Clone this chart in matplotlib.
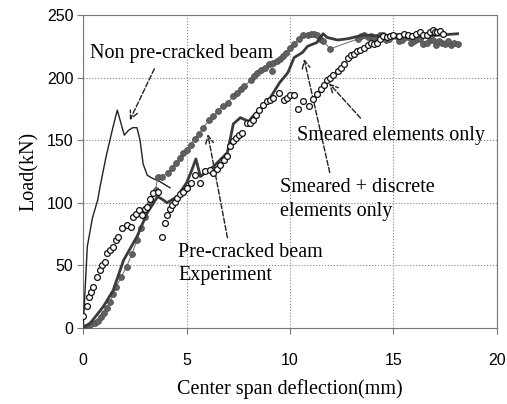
import matplotlib.pyplot as plt
import numpy as np

# non pre-cracked beam (FE, thin line)
npc_x = [0.0, 0.2, 0.45, 0.7, 0.82, 1.11, 1.45, 1.65, 1.99, 2.2, 2.4, 2.6, 2.75, 2.9, 3.1, 3.3, 3.7, 4.0, 4.2]
npc_y = [0, 65, 88, 102, 113, 137, 161, 174, 154, 158, 160, 160, 150, 131, 122, 120, 117, 114, 112]

# pre-cracked beam, experiment (filled dots)
exp_x = [0.0, 0.1, 0.25, 0.4, 0.55, 0.7, 0.85, 1.0, 1.15, 1.3, 1.45, 1.6, 1.85, 2.1, 2.35, 2.6, 2.8, 3.0,
         3.25, 3.5, 3.6, 3.8, 4.1, 4.3, 4.5, 4.7, 4.85, 5.0, 5.2, 5.4, 5.6, 5.8, 6.1, 6.3, 6.5, 6.75,
         7.0, 7.25, 7.45, 7.65, 7.8, 8.1, 8.25, 8.4, 8.6, 8.8, 9.0, 9.15, 9.2, 9.35, 9.5, 9.65, 9.8,
         10.0, 10.2, 10.45, 10.65, 10.85, 11.0, 11.15, 11.3, 11.45, 11.6, 11.95, 13.3, 13.45, 13.6,
         13.75, 13.9, 14.05, 14.2, 14.35, 14.5, 14.65, 14.8, 14.95, 15.1, 15.25, 15.4, 15.55, 15.7,
         15.85, 16.0, 16.15, 16.3, 16.45, 16.6, 16.75, 16.9, 17.05, 17.2, 17.35, 17.5, 17.65, 17.8,
         17.95, 18.1]
exp_y = [0, 1, 2, 3, 4, 6, 9, 12, 16, 21, 27, 33, 41, 49, 59, 70, 80, 89,
         100, 110, 121, 121, 124, 128, 132, 136, 140, 142, 146, 151, 155, 160, 166, 169, 173, 177,
         180, 185, 188, 191, 193, 198, 201, 204, 206, 208, 211, 205, 212, 213, 215, 217, 220,
         224, 227, 231, 234, 234, 235, 235, 234, 231, 229, 223, 231, 233, 234,
         232, 233, 231, 232, 234, 234, 230, 231, 233, 233, 229, 230, 232, 232,
         228, 229, 231, 231, 227, 228, 230, 230, 226, 229, 228, 227, 229, 226,
         228, 227]

# smeared + discrete elements (thick line)
sd_x = [0.0, 0.35, 0.97, 1.45, 1.95, 2.6, 3.1, 3.6, 3.9, 4.05, 4.55, 5.0, 5.25, 5.45, 5.67, 6.0, 6.3, 6.97,
        7.1, 7.26, 7.6, 8.0, 8.2, 8.9, 9.5, 9.9, 10.2, 10.6, 10.85, 11.3, 11.6, 11.8, 12.3, 12.8, 13.55,
        14.5, 15.5, 16.5, 17.3, 18.1]
sd_y = [0, 4, 17, 30, 54, 73, 92, 105, 102, 100, 105, 116, 126, 135, 121, 125, 129, 140,
        150, 163, 168, 165, 169, 180, 196, 204, 216, 220, 225, 228, 235, 232, 230, 231, 234,
        233, 234, 233, 234, 235]

# smeared elements only (open circles)
sm_x = [0.0, 0.2, 0.3, 0.4, 0.5, 0.65, 0.8, 0.9, 1.05, 1.15, 1.3, 1.45, 1.6, 1.7, 1.9, 2.1, 2.3, 2.4,
        2.55, 2.7, 2.85, 3.0, 3.1, 3.25, 3.4, 3.6, 3.8, 3.97, 4.05, 4.2, 4.3, 4.45, 4.55, 4.7, 4.85,
        5.0, 5.2, 5.4, 5.67, 5.9, 6.15, 6.3, 6.45, 6.6, 6.8, 6.97, 7.1, 7.25, 7.4, 7.55, 7.7, 7.9,
        8.05, 8.2, 8.35, 8.5, 8.7, 8.9, 9.05, 9.2, 9.45, 9.7, 9.85, 10.0, 10.2, 10.4, 10.65, 10.9,
        11.1, 11.3, 11.5, 11.65, 11.8, 11.95, 12.1, 12.3, 12.45, 12.6, 12.8, 12.95, 13.1, 13.25, 13.4,
        13.6, 13.75, 13.9, 14.05, 14.2, 14.35, 14.5, 14.7, 14.85, 15.0, 15.25, 15.5, 15.7, 15.9, 16.1,
        16.3, 16.45, 16.6, 16.75, 16.9, 17.0, 17.1, 17.25, 17.4]
sm_y = [10, 18, 25, 29, 33, 41, 46, 50, 53, 60, 62, 65, 70, 73, 80, 82, 81, 89,
        91, 94, 90, 95, 97, 103, 108, 109, 73, 84, 90, 95, 98, 101, 104, 107, 109,
        112, 116, 122, 116, 125, 126, 124, 127, 130, 134, 137, 145, 149, 152, 154, 156, 164,
        164, 166, 170, 174, 178, 181, 182, 184, 188, 182, 184, 186, 186, 175, 181, 177,
        183, 187, 191, 194, 198, 200, 202, 205, 208, 211, 216, 218, 219, 221, 222,
        224, 226, 228, 227, 228, 231, 233, 232, 233, 234, 233, 235, 234, 233, 235,
        236, 234, 234, 236, 238, 236, 236, 237, 235]

fig = plt.figure(figsize=(5.07, 4.04), dpi=100)
ax = fig.add_axes([0.164, 0.188, 0.816, 0.775])

ax.plot(npc_x, npc_y, color='#222222', lw=1.0, zorder=3)
ax.plot(exp_x, exp_y, '-o', color='#777777', lw=0.8, ms=4.2, mfc='#626262', mec='#505050', mew=0.6, zorder=4)
ax.plot(sd_x, sd_y, color='#3a3a3a', lw=2.0, zorder=5)
ax.plot(sm_x, sm_y, 'o', ms=4.2, mfc='white', mec='#111111', mew=0.9, zorder=6)

ax.set_xlim(0, 20)
ax.set_ylim(0, 250)
ax.set_xticks([0, 5, 10, 15, 20])
ax.set_yticks([0, 50, 100, 150, 200, 250])
ax.grid(True, ls=':', color='#888888', lw=0.8)
for s in ax.spines.values():
    s.set_color('#777777')
    s.set_linewidth(0.8)
ax.tick_params(direction='out', length=4, color='#777777', labelsize=11.5, pad=3)
ax.tick_params(axis='x', pad=14)
for lab in ax.get_xticklabels() + ax.get_yticklabels():
    lab.set_family('Liberation Sans')

serif = 'Liberation Serif'
ax.set_xlabel('Center span deflection(mm)', family=serif, fontsize=14.5, labelpad=8)
ax.set_ylabel('Load(kN)', family=serif, fontsize=14.5, labelpad=6)

tkw = dict(family=serif, fontsize=14.5, va='center', ha='left', zorder=7)
ax.text(0.33, 219, 'Non pre-cracked beam', **tkw)
ax.text(10.35, 154, 'Smeared elements only', **tkw)
ax.text(9.5, 112, 'Smeared + discrete', **tkw)
ax.text(9.5, 93, 'elements only', **tkw)
ax.text(4.6, 60, 'Pre-cracked beam', **tkw)
ax.text(4.6, 42, 'Experiment', **tkw)

akw = dict(arrowstyle='->', ls='--', lw=1.0, color='#222222', mutation_scale=14)
ax.annotate('', xy=(2.2, 164), xytext=(3.5, 209), arrowprops=akw)
ax.annotate('', xy=(11.8, 197), xytext=(13.5, 166), arrowprops=akw)
ax.annotate('', xy=(10.65, 217), xytext=(11.95, 122), arrowprops=akw)
ax.annotate('', xy=(6.0, 157), xytext=(7.0, 70), arrowprops=akw)

plt.savefig('out.png', dpi=100)
